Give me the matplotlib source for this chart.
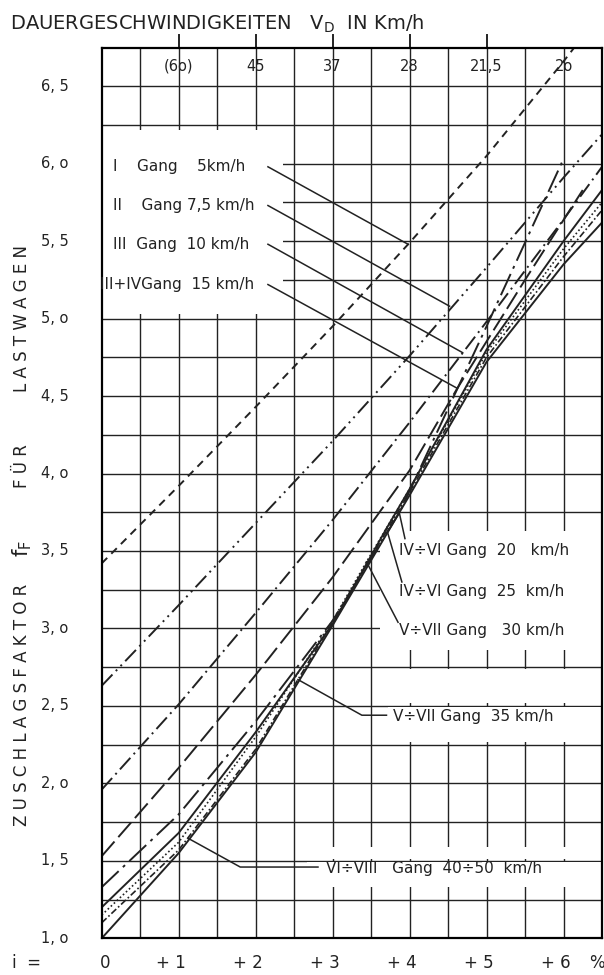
import matplotlib.pyplot as plt
from matplotlib.patches import Rectangle

# Steigung i in %, Zuschlagsfaktor f_F
i_g1 = [0, 1, 2, 3, 4, 5, 6, 6.14]
f_g1 = [3.42, 3.92, 4.43, 4.95, 5.49, 6.05, 6.66, 6.75]

i_g2 = [0, 1, 2, 3, 4, 5, 6, 6.5]
f_g2 = [2.63, 3.15, 3.68, 4.21, 4.76, 5.33, 5.91, 6.19]

i_g3 = [0, 1, 2, 3, 4, 5, 6, 6.5]
f_g3 = [1.96, 2.51, 3.10, 3.70, 4.33, 4.98, 5.64, 5.98]

i_g34 = [0, 1, 2, 3, 4, 4.62, 5.5, 6.25]
f_g34 = [1.53, 2.10, 2.70, 3.33, 4.02, 4.55, 5.25, 5.83]

i_g46a = [0, 1, 2, 3, 3.87, 5, 5.99]
f_g46a = [1.33, 1.80, 2.40, 3.05, 3.75, 4.95, 6.02]

i_g46b = [0, 1, 2, 3, 3.7, 4, 5, 6, 6.5]
f_g46b = [1.20, 1.68, 2.33, 3.03, 3.645, 3.90, 4.80, 5.50, 5.83]

i_g57a = [0, 1, 2, 3, 3.44, 4, 5, 6, 6.5]
f_g57a = [1.15, 1.62, 2.30, 3.05, 3.43, 3.90, 4.78, 5.45, 5.75]

i_g57b = [0, 1, 2, 2.55, 3, 4, 5, 6, 6.5]
f_g57b = [1.10, 1.57, 2.22, 2.67, 3.04, 3.88, 4.75, 5.40, 5.70]

i_g68 = [0, 1, 2, 3, 4, 5, 6, 6.5]
f_g68 = [1.00, 1.55, 2.20, 3.02, 3.86, 4.72, 5.35, 5.62]

x_ticks = [0, 1, 2, 3, 4, 5, 6]
x_labels = ["0", "+ 1", "+ 2", "+ 3", "+ 4", "+ 5", "+ 6"]
y_ticks = [1.0, 1.5, 2.0, 2.5, 3.0, 3.5, 4.0, 4.5, 5.0, 5.5, 6.0, 6.5]
y_labels = ["1, o", "1, 5", "2, o", "2, 5", "3, o", "3, 5", "4, o", "4, 5",
            "5, o", "5, 5", "6, o", "6, 5"]
v_pos = [1, 2, 3, 4, 5, 6]
v_labels = ["(6o)", "45", "37", "28", "21,5", "2o"]

fig = plt.figure(figsize=(6.04, 9.75), dpi=100)
ax = fig.add_axes([101.7 / 604, 1 - 938.3 / 975, (602 - 101.7) / 604, (938.3 - 47.5) / 975])
ax.set_xlim(0, 6.5)
ax.set_ylim(1.0, 6.75)
ax.set_xticks([])
ax.set_yticks([])
for s in ax.spines.values():
    s.set_linewidth(1.6)
    s.set_zorder(5)

k = "#222222"
for x in [0.5 * n for n in range(1, 13)]:
    ax.axvline(x, color=k, lw=1.0, zorder=0)
for y in [1.0 + 0.25 * n for n in range(1, 23)]:
    ax.axhline(y, color=k, lw=1.0, zorder=0)

# weisse Felder hinter den Beschriftungen
for (x0, y0, w, h) in [(0.0, 5.03, 2.35, 1.19), (3.62, 2.86, 2.9, 0.77),
                        (3.72, 2.27, 2.8, 0.22), (3.72, 2.52, 2.8, 0.22),
                        (2.67, 1.33, 3.83, 0.16), (2.67, 1.51, 3.83, 0.08)]:
    ax.add_patch(Rectangle((x0, y0), w, h, facecolor="white", edgecolor="none", zorder=1))

lw = 1.4
ax.plot(i_g1, f_g1, color=k, lw=lw, ls=(0, (4, 3)), zorder=3)
ax.plot(i_g2, f_g2, color=k, lw=lw, ls=(0, (8, 2.5, 1, 2.5, 1, 2.5)), zorder=3)
ax.plot(i_g3, f_g3, color=k, lw=lw, ls=(0, (8, 2.5, 1, 2.5)), zorder=3)
ax.plot(i_g34, f_g34, color=k, lw=lw, ls=(0, (10, 3)), zorder=3)
ax.plot(i_g46a, f_g46a, color=k, lw=lw, ls=(0, (12, 3, 1.5, 3)), zorder=3)
ax.plot(i_g46b, f_g46b, color=k, lw=lw, ls="-", zorder=3)
ax.plot(i_g57a, f_g57a, color=k, lw=1.2, ls=(0, (1, 1.5)), zorder=3)
ax.plot(i_g57b, f_g57b, color=k, lw=1.2, ls=(0, (4, 1.5, 1, 1.5)), zorder=3)
ax.plot(i_g68, f_g68, color=k, lw=lw, ls="-", zorder=3)

# Hinweislinien
leaders = [
    [(2.16, 5.98), (3.98, 5.48)],
    [(2.16, 5.73), (4.52, 5.08)],
    [(2.16, 5.48), (4.69, 4.78)],
    [(2.16, 5.22), (4.62, 4.55)],
    [(3.94, 3.58), (3.865, 3.75)],
    [(3.90, 3.30), (3.70, 3.645)],
    [(3.85, 3.04), (3.44, 3.43)],
    [(3.70, 2.44), (3.38, 2.44), (2.55, 2.67)],
    [(2.81, 1.46), (1.80, 1.46), (1.125, 1.645)],
]
for pts in leaders:
    ax.plot([p[0] for p in pts], [p[1] for p in pts], color=k, lw=1.1, zorder=3)

fs = 11
txt = dict(fontsize=fs, color=k, va="center", zorder=6)
ax.text(0.15, 5.98, "I    Gang    5km/h", **txt)
ax.text(0.15, 5.73, "II    Gang 7,5 km/h", **txt)
ax.text(0.15, 5.48, "III  Gang  10 km/h", **txt)
ax.text(-0.02, 5.22, "III+IVGang  15 km/h", **txt)
ax.text(3.86, 3.50, "IV÷VI Gang  20   km/h", **txt)
ax.text(3.86, 3.24, "IV÷VI Gang  25  km/h", **txt)
ax.text(3.86, 2.99, "V÷VII Gang   30 km/h", **txt)
ax.text(3.78, 2.43, "V÷VII Gang  35 km/h", **txt)
ax.text(2.92, 1.45, "VI÷VIII   Gang  40÷50  km/h", **txt)

# obere Skala: Dauergeschwindigkeiten
for p, lab in zip(v_pos, v_labels):
    ax.text(p, 6.63, lab, fontsize=10.5, color=k, ha="center", va="center", zorder=6)
    if p < 6:
        ax.plot([p, p], [6.75, 6.83], color=k, lw=1.4, clip_on=False)

for p, lab in zip(y_ticks, y_labels):
    ax.text(-0.61, p, lab, fontsize=10.5, color=k, ha="center", va="center")
for p, lab in zip(x_ticks, x_labels):
    ax.text(p - (0.1 if p else -0.04), 0.84, lab, fontsize=12, color=k, ha="center", va="center")
ax.text(6.43, 0.84, "%", fontsize=12, color=k, ha="center", va="center")
fig.text(12 / 604, 1 - 963 / 975, "i  =", fontsize=12, color=k, va="center")

fig.text(10 / 604, 1 - 24 / 975, r"DAUERGESCHWINDIGKEITEN   $\mathsf{V_D}$  IN Km/h",
         fontsize=14, color=k, va="center")

rot = dict(rotation=90, fontsize=12, color=k, ha="center", va="center")
fig.text(22 / 604, 1 - 705 / 975, " ".join("ZUSCHLAGSFAKTOR"), **rot)
fig.text(22 / 604, 1 - 548 / 975, r"$\mathsf{f_F}$", rotation=90, fontsize=15,
         color=k, ha="center", va="center")
fig.text(22 / 604, 1 - 466 / 975, " ".join("FÜR"), **rot)
fig.text(22 / 604, 1 - 318 / 975, " ".join("LASTWAGEN"), **rot)

fig.savefig("out.png", dpi=100, facecolor="white")
